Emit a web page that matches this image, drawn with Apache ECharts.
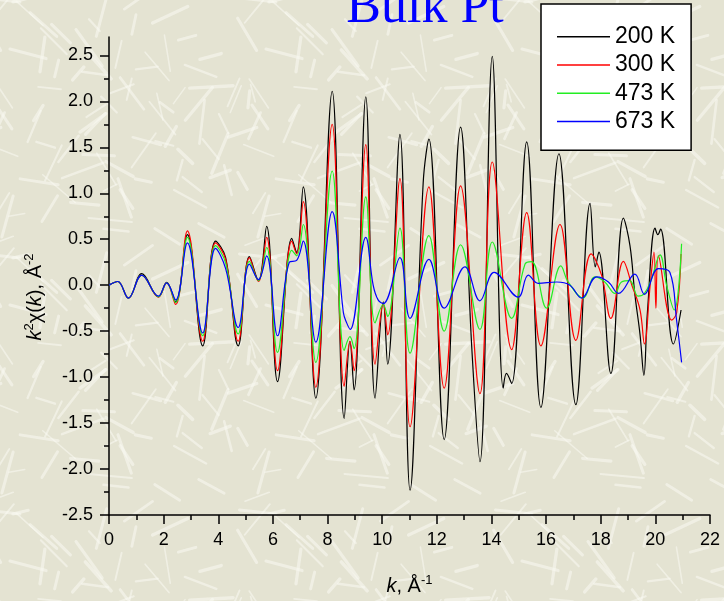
<!DOCTYPE html>
<html>
<head>
<meta charset="utf-8">
<script src="https://cdn.jsdelivr.net/npm/echarts@6/dist/echarts.min.js"></script>
<style>
html,body{margin:0;padding:0;}
#main{width:724px;height:601px;background:#e4e3d2;}
</style>
</head>
<body>
<div id="main"></div>
<script>
//数据: k (1/Å) 与 k^2 chi(k)
var k200 = [0,0.32,0.71,1.2,1.81,2.11,2.44,2.87,3.43,3.9,4.27,4.73,5.14,5.47,5.77,6.17,6.69,6.87,7.11,7.57,8.17,8.61,8.82,8.97,9.4,9.74,10.04,10.2,10.65,11.02,11.5,11.71,12.27,12.87,13.28,13.58,14.03,14.43,14.55,14.74,15.29,15.81,16.47,17.09,17.61,17.8,17.93,18.37,18.83,19.07,19.25,19.44,19.58,19.71,19.99,20.09,20.19,20.66,20.94];
var chi200 = [0,0.04,-0.14,0.125,-0.125,0.03,-0.18,0.55,-0.66,0.48,0.3,-0.66,0.31,0.05,0.64,-1.05,0.51,0.355,1.07,-1.23,2.11,-1.45,-0.61,-1.14,2.05,-1.23,-0.18,-0.86,1.64,-2.23,1.11,1.59,-1.68,1.72,-0.68,-1.92,2.49,-1.12,-0.96,-1.07,1.56,-1.33,1.43,-1.3,0.89,0.2,0.36,-0.96,0.73,0.43,-0.1,-0.54,-0.98,-0.29,0.62,0.55,0.61,-0.64,-0.27];

var k300 = [0,0.32,0.71,1.2,1.81,2.11,2.44,2.87,3.43,3.9,4.27,4.73,5.14,5.47,5.77,6.17,6.69,6.87,7.11,7.57,8.17,8.61,8.82,8.97,9.4,9.74,10.04,10.2,10.65,11.02,11.71,12.27,12.87,13.58,14.03,14.74,15.29,15.81,16.51,17.09,17.65,18.03,18.37,18.83,19.14,19.44,19.6,19.81,19.95,20.02,20.11,20.6,20.78,20.94];
var chi300 = [0,0.04,-0.14,0.11,-0.13,0.025,-0.21,0.59,-0.61,0.46,0.28,-0.61,0.3,0.04,0.52,-0.93,0.48,0.34,0.91,-1.11,1.75,-1.1,-0.61,-0.93,1.53,-0.86,-0.2,-0.54,1.16,-1.54,1.07,-1.12,1.08,-1.18,1.34,-0.7,0.79,-0.66,0.66,-0.6,0.34,0.11,-0.36,0.26,0,-0.27,-0.64,0,0.36,-0.25,0.32,-0.38,-0.3,0.34];

var k473 = [0,0.32,0.71,1.2,1.81,2.11,2.44,2.87,3.43,3.9,4.27,4.73,5.14,5.47,5.77,6.17,6.69,6.87,7.11,7.57,8.17,8.61,8.82,8.97,9.4,9.74,10.04,10.2,10.65,11.02,11.71,12.27,12.87,13.58,14.03,14.74,15.23,15.47,16.02,16.54,16.81,17.36,17.79,18.15,18.52,18.76,19.06,19.37,19.6,19.86,20.17,20.41,20.69,20.96];
var chi473 = [0,0.04,-0.14,0.11,-0.125,0.025,-0.19,0.52,-0.55,0.43,0.24,-0.53,0.26,0.05,0.41,-0.73,0.38,0.32,0.66,-0.84,1.24,-0.71,-0.56,-0.69,0.96,-0.41,-0.21,-0.34,0.62,-0.74,0.54,-0.5,0.44,-0.48,0.47,-0.36,0.23,0.256,-0.25,0.21,0.035,-0.14,0.09,0.035,-0.09,0.035,0.05,-0.12,-0.09,0.07,0.33,0,-0.27,0.45];

var k673 = [0,0.32,0.71,1.2,1.81,2.11,2.44,2.87,3.43,3.9,4.27,4.73,5.14,5.47,5.77,6.17,6.6,6.87,7.11,7.57,8.17,8.58,8.7,8.83,9.4,9.67,9.85,10.04,10.65,11.02,11.71,12.27,13.03,13.58,14.1,14.98,15.35,15.71,16.39,16.87,17.3,17.85,18.28,18.65,19.25,19.6,20.11,20.53,20.78,20.96];
var chi673 = [0,0.04,-0.14,0.11,-0.12,0.025,-0.16,0.46,-0.52,0.4,0.18,-0.46,0.23,0.06,0.32,-0.55,0.25,0.27,0.48,-0.62,0.8,-0.3,-0.41,-0.48,0.52,0,-0.16,-0.2,0.3,-0.36,0.28,-0.25,0.2,-0.17,0.14,-0.13,0.11,0.02,0.035,0,-0.14,0.09,0.035,-0.09,0.12,-0.1,0.18,0.14,-0.39,-0.84];

var seriesNames = ['200 K','300 K','473 K','673 K'];
var seriesColors = ['#000000','#ff0000','#22ee22','#0000ff'];
var yMajor = [-2.5,-2.0,-1.5,-1.0,-0.5,0,0.5,1.0,1.5,2.0,2.5];
var yMinor = [-2.25,-1.75,-1.25,-0.75,-0.25,0.25,0.75,1.25,1.75,2.25];

//背景纹理
var bgTexture = (function () {
	var c = document.createElement('canvas');
	c.width = 256; c.height = 256;
	var ctx = c.getContext('2d');
	ctx.fillStyle = '#e4e3d2';
	ctx.fillRect(0, 0, 256, 256);
	var s = 12345;
	var rnd = function () { s = (s * 16807) % 2147483647; return s / 2147483647; };
	ctx.strokeStyle = 'rgba(250,250,242,0.55)';
	ctx.lineCap = 'round';
	for (var i = 0; i < 90; i++) {
		var x = rnd() * 256, y = rnd() * 256, a = rnd() * Math.PI, l = 15 + rnd() * 30;
		ctx.lineWidth = 1.5 + rnd() * 2;
		for (var dx = -256; dx <= 256; dx += 256) {
			for (var dy = -256; dy <= 256; dy += 256) {
				ctx.beginPath();
				ctx.moveTo(x + dx, y + dy);
				ctx.lineTo(x + dx + Math.cos(a) * l, y + dy + Math.sin(a) * l);
				ctx.stroke();
			}
		}
	}
	return c.toDataURL();
})();
document.getElementById('main').style.backgroundImage = 'url(' + bgTexture + ')';

var zip = function (ks, vs) {
	var out = [];
	for (var i = 0; i < ks.length; i++) out.push([ks[i], vs[i]]);
	return out;
};
var allData = [zip(k200, chi200), zip(k300, chi300), zip(k473, chi473), zip(k673, chi673)];

var font = 'Liberation Sans';
var axisLineStyle = {color: '#000', width: 1.5};
var nameRich = {
	i: {fontStyle: 'italic', fontSize: 20, fontFamily: font, color: '#000', lineHeight: 22, verticalAlign: 'bottom'},
	n: {fontSize: 20, fontFamily: font, color: '#000', lineHeight: 22, verticalAlign: 'bottom'},
	sup: {fontSize: 13, fontFamily: font, color: '#000', lineHeight: 13, verticalAlign: 'top'}
};

var myChart = echarts.init(document.getElementById('main'));
var option = {
	backgroundColor: 'transparent',
	animation: false,
	textStyle: {fontFamily: font},
	grid: {left: 109, right: 14, top: 37, bottom: 77, containLabel: false},
	graphic: [{
		type: 'text',
		x: 425,
		y: 34,
		style: {
			text: 'Bulk Pt',
			fill: '#0000ff',
			fontSize: 52,
			fontFamily: 'Liberation Serif',
			align: 'center',
			verticalAlign: 'bottom'
		}
	}],
	legend: {
		orient: 'vertical',
		left: 541,
		top: 4,
		padding: [21, 16, 17, 16],
		itemWidth: 53,
		itemHeight: 1.5,
		itemGap: 5,
		icon: 'rect',
		backgroundColor: '#ffffff',
		borderColor: '#000',
		borderWidth: 1.5,
		borderRadius: 0,
		textStyle: {fontSize: 23, color: '#000', fontFamily: font, lineHeight: 23.3},
		data: seriesNames
	},
	xAxis: {
		type: 'value',
		min: 0,
		max: 22,
		interval: 2,
		name: '{i|k}{n|, Å}{sup|-1}',
		nameLocation: 'middle',
		nameGap: 59,
		nameTextStyle: {rich: nameRich},
		axisLine: {onZero: false, lineStyle: axisLineStyle},
		axisTick: {show: true, length: 9, lineStyle: axisLineStyle},
		minorTick: {show: true, splitNumber: 2, length: 5, lineStyle: axisLineStyle},
		axisLabel: {color: '#000', fontSize: 18, margin: 16},
		splitLine: {show: false}
	},
	yAxis: [{
		type: 'value',
		min: -2.5,
		max: 2.7,
		interval: 0.5,
		name: '{i|k}{sup|2}{n|χ(}{i|k}{n|), Å}{sup|-2}',
		nameLocation: 'middle',
		nameGap: 64,
		nameTextStyle: {rich: nameRich, padding: [0, 42, 0, 0]},
		axisLine: {show: true, onZero: false, lineStyle: axisLineStyle},
		axisTick: {show: true, length: 9, lineStyle: axisLineStyle, customValues: yMajor},
		axisLabel: {color: '#000', fontSize: 18, margin: 16, customValues: yMajor,
			formatter: function (v) { return v.toFixed(1); }},
		splitLine: {show: false}
	}, {
		type: 'value',
		min: -2.5,
		max: 2.7,
		position: 'left',
		axisLine: {show: false, onZero: false},
		axisTick: {show: true, length: 5, lineStyle: axisLineStyle, customValues: yMinor},
		axisLabel: {show: false},
		splitLine: {show: false}
	}],
	series: seriesNames.map(function (name, i) {
		return {
			name: name,
			type: 'line',
			data: allData[i],
			smooth: 0.4,
			showSymbol: false,
			symbol: 'none',
			color: seriesColors[i],
			lineStyle: {width: 1.2, color: seriesColors[i]}
		};
	})
};
myChart.setOption(option);
</script>
</body>
</html>
